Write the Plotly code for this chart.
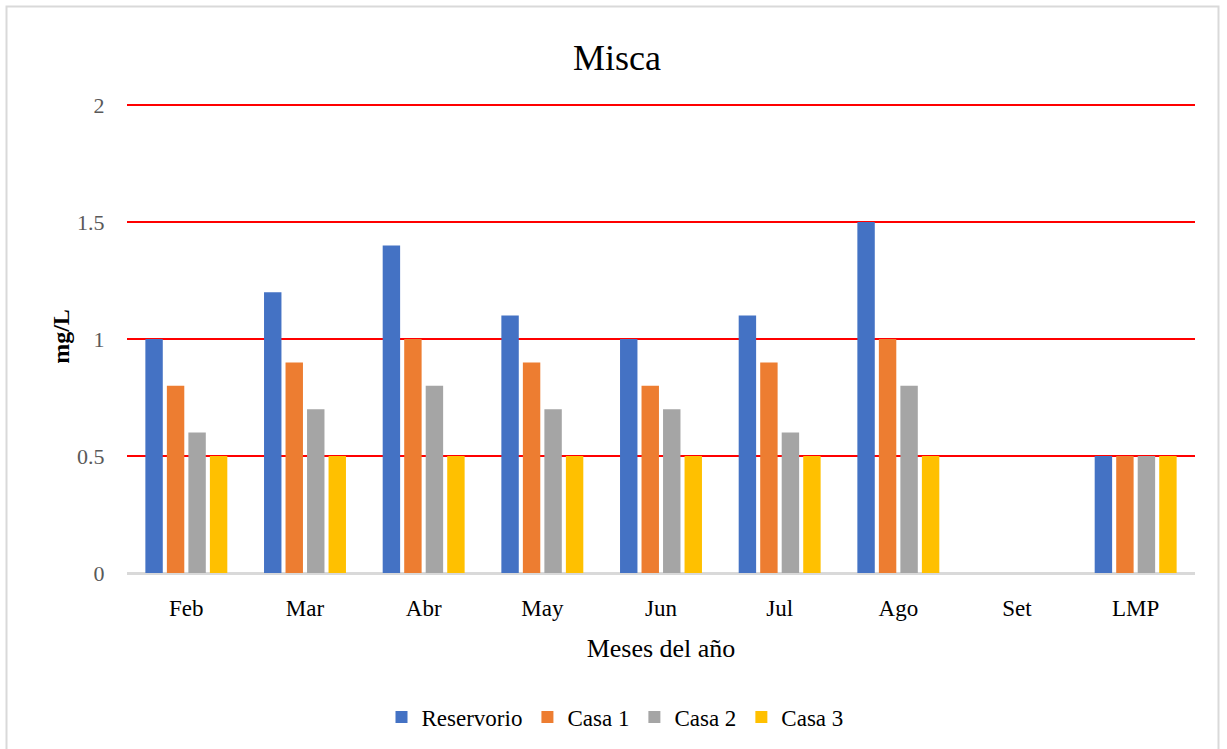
import plotly.graph_objects as go

categories = ["Feb", "Mar", "Abr", "May", "Jun", "Jul", "Ago", "Set", "LMP"]
reservorio = [1.0, 1.2, 1.4, 1.1, 1.0, 1.1, 1.5, None, 0.5]
casa1 = [0.8, 0.9, 1.0, 0.9, 0.8, 0.9, 1.0, None, 0.5]
casa2 = [0.6, 0.7, 0.8, 0.7, 0.7, 0.6, 0.8, None, 0.5]
casa3 = [0.5, 0.5, 0.5, 0.5, 0.5, 0.5, 0.5, None, 0.5]

series = [
    ("Reservorio", reservorio, "#4472C4"),
    ("Casa 1", casa1, "#ED7D31"),
    ("Casa 2", casa2, "#A5A5A5"),
    ("Casa 3", casa3, "#FFC000"),
]

W, H = 1227, 749
L, R, T, B = 127, 32, 100, 176
pw, ph = W - L - R, H - T - B
ymax = ph / 234.0  # 2 units span 468 px in the reference

fig = go.Figure()
for name, vals, col in series:
    fig.add_trace(go.Bar(x=categories, y=vals, name=name, marker_color=col,
                         marker_line_width=0))

font = "Liberation Serif, Times New Roman, serif"

fig.update_layout(
    width=W, height=H,
    margin=dict(l=L, r=R, t=T, b=B, autoexpand=False),
    paper_bgcolor="white", plot_bgcolor="white",
    barmode="group", bargap=0.275, bargroupgap=0.19,
    font=dict(family=font, color="#000000"),
    title=dict(text="Misca", x=(617 - L) / pw, xref="paper", xanchor="center",
               y=1 - 57 / H, yanchor="middle",
               font=dict(size=36, color="#000000", family=font)),
    legend=dict(orientation="h", x=(615 - L) / pw, xanchor="center",
                y=(H - B - 717) / ph, yanchor="middle",
                font=dict(size=23, color="#000000", family=font),
                itemwidth=30, tracegroupgap=0, bgcolor="rgba(0,0,0,0)"),
    showlegend=True,
)

fig.update_xaxes(
    showgrid=False, showline=True, linecolor="#D9D9D9", linewidth=2,
    ticks="outside", ticklen=13, tickcolor="rgba(0,0,0,0)",
    tickfont=dict(size=23, color="#000000", family=font),
    title=dict(text="Meses del año", standoff=19,
               font=dict(size=26, color="#000000", family=font)),
)

fig.update_yaxes(
    range=[0, ymax], tickvals=[0, 0.5, 1, 1.5, 2], ticktext=["0", "0.5", "1", "1.5", "2"],
    showgrid=True, gridcolor="#FF0000", gridwidth=2,
    zeroline=True, zerolinecolor="#D9D9D9", zerolinewidth=2,
    showline=False,
    ticks="outside", ticklen=17, tickcolor="rgba(0,0,0,0)",
    tickfont=dict(size=22, color="#595959", family=font),
    title=dict(text="<b>mg/L</b>", standoff=0,
               font=dict(size=24, color="#000000", family=font)),
)

# outer chart border
fig.add_shape(type="rect", xref="paper", yref="paper",
              x0=(6.5 - L) / pw, x1=(1218.5 - L) / pw,
              y0=(H - B - 770) / ph, y1=(H - B - 6.5) / ph,
              line=dict(color="#D9D9D9", width=2), fillcolor="rgba(0,0,0,0)",
              layer="below")

fig.write_html("out.html", config={"displayModeBar": False},
               post_script="document.body.style.margin='0';document.body.style.overflow='hidden';")
